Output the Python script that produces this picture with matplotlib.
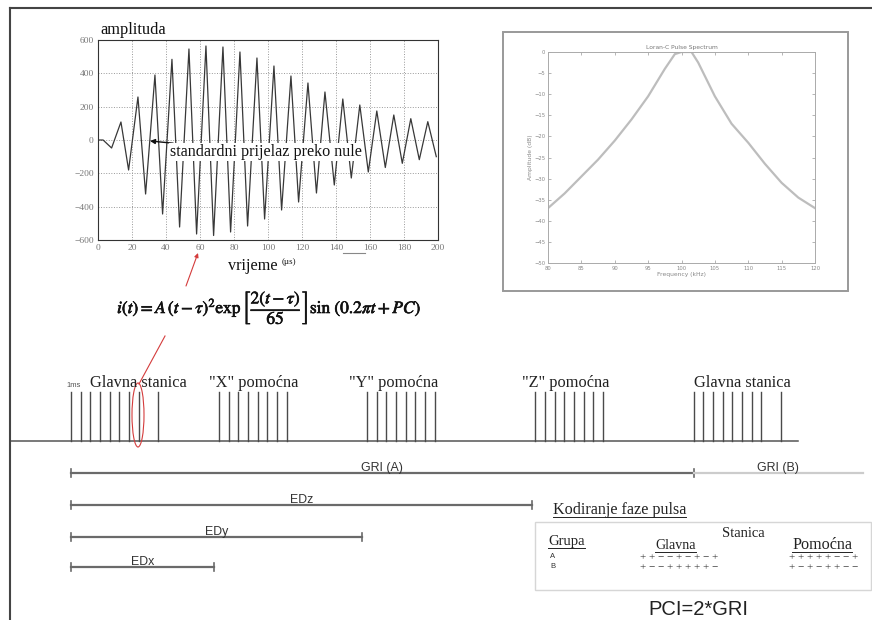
import matplotlib
matplotlib.use('Agg')
import matplotlib.pyplot as plt
from matplotlib.patches import Ellipse, Rectangle
import matplotlib.patheffects as pe

# ---------------- data ----------------
wave_t = [0, 3, 8, 13.5, 18, 23.5, 28, 33.5, 38, 43.5, 48, 53.5, 58, 63.5, 68, 73.5,
          78, 83.5, 88, 93.5, 98, 103.5, 108, 113.5, 118, 123.5, 128.5, 133.5, 139,
          144, 149, 154, 159, 164, 169, 174, 179, 184, 189, 194, 199]
wave_amp = [0, 0, -48, 108, -180, 258, -324, 390, -444, 484, -522, 546, -564, 564,
            -573, 558, -552, 528, -516, 492, -474, 444, -420, 384, -372, 342, -318,
            288, -270, 246, -228, 210, -192, 174, -165, 150, -140, 128, -118, 110, -100]
wave_xticks = [0, 20, 40, 60, 80, 100, 120, 140, 160, 180, 200]
wave_yticks = [-600, -400, -200, 0, 200, 400, 600]

spec_f = [80, 82.5, 85, 87.5, 90, 92.5, 95, 97.5, 99, 100, 101.5, 102.5, 105,
          107.5, 110, 112.5, 115, 117.5, 120]
spec_db = [-37, -33.5, -29.5, -25.5, -21, -16, -10.5, -4, -0.5, 0, 0, -2.5, -10.5,
           -17, -21.5, -26.5, -31, -34.5, -37]
spec_xticks = [80, 85, 90, 95, 100, 105, 110, 115, 120]
spec_yticks = [0, -5, -10, -15, -20, -25, -30, -35, -40, -45, -50]

station_labels = ['Glavna stanica', '"X" pomoćna', '"Y" pomoćna', '"Z" pomoćna', 'Glavna stanica']
group_start_ms = [0, 15.3, 30.6, 48.0, 64.4]
group_is_master = [True, False, False, False, True]
master_offsets = [0, 1, 2, 3, 4, 5, 6, 7, 9]
secondary_offsets = [0, 1, 2, 3, 4, 5, 6, 7]

range_labels = ['GRI (A)', 'EDz', 'EDy', 'EDx', 'GRI (B)']
range_start = [0, 0, 0, 0, 64.4]
range_end = [64.4, 47.7, 30.1, 14.8, 81.9]

phase_groups = ['A', 'B']
phase_master = ['++−−+−+−+', '+−−+++++−']
phase_secondary = ['+++++−−+', '+−+−++−−']

# ---------------- figure ----------------
W, H = 872, 620
fig = plt.figure(figsize=(W / 100, H / 100), dpi=100)
SERIF = ['Liberation Serif', 'DejaVu Serif']
SANS = ['Liberation Sans', 'DejaVu Sans']


def fa(l, t, r, b):
    return [l / W, 1 - b / H, (r - l) / W, (b - t) / H]


# waveform plot
axw = fig.add_axes(fa(98, 40, 438, 240))
axw.plot(wave_t, wave_amp, color='#383838', lw=0.9, solid_joinstyle='round')
axw.set_xlim(0, 200)
axw.set_ylim(-600, 600)
axw.set_xticks(wave_xticks)
axw.set_yticks(wave_yticks)
axw.grid(True, ls=':', color='#999999', lw=0.7)
axw.tick_params(length=0, labelsize=6.8, labelcolor='#777777', pad=3)
for lab in axw.get_xticklabels() + axw.get_yticklabels():
    lab.set_family(SERIF)
for s in axw.spines.values():
    s.set_color('#333333')
    s.set_linewidth(0.8)

# spectrum plot
axs = fig.add_axes(fa(548, 52, 815, 263))
axs.plot(spec_f, spec_db, color='#bdbdbd', lw=1.6)
axs.set_xlim(80, 120)
axs.set_ylim(-50, 0)
axs.set_xticks(spec_xticks)
axs.set_yticks(spec_yticks)
axs.tick_params(direction='in', length=2, width=0.5, color='#999999', labelsize=3.8,
                labelcolor='#888888', top=True, right=True, pad=2)
for s in axs.spines.values():
    s.set_color('#aaaaaa')
    s.set_linewidth(0.7)
axs.set_title('Loran-C Pulse Spectrum', fontsize=4.3, color='#777777', pad=2)
axs.set_xlabel('Frequency (kHz)', fontsize=4.3, color='#888888', labelpad=1)
axs.set_ylabel('Amplitude (dB)', fontsize=4.3, color='#888888', labelpad=1)

# timeline axes (x in ms)
PX0, PXMS = 71.0, 9.67
axt = fig.add_axes([0, 0, 1, 1])
axt.set_xlim(-PX0 / PXMS, (W - PX0) / PXMS)
axt.set_ylim(H, 0)
axt.axis('off')
axt.patch.set_alpha(0)

axt.plot([(10 - PX0) / PXMS, (798 - PX0) / PXMS], [441, 441], color='#555555', lw=1.1)
for start, master in zip(group_start_ms, group_is_master):
    offs = master_offsets if master else secondary_offsets
    for o in offs:
        axt.plot([start + o, start + o], [392, 441], color='#4a4a4a', lw=1.0)

range_rows = [473, 505, 537, 567, 473]
for lab, s0, s1, yy in zip(range_labels, range_start, range_end, range_rows):
    col = '#cccccc' if lab == 'GRI (B)' else '#6a6a6a'
    axt.plot([s0, s1], [yy, yy], color=col, lw=1.6)
    if lab != 'GRI (B)':
        axt.plot([s0, s0], [yy - 4, yy + 4], color='#6a6a6a', lw=1.2)
        axt.plot([s1, s1], [yy - 4, yy + 4], color='#6a6a6a', lw=1.2)
    xm = (s0 + s1) / 2
    axt.text(xm, yy - 2, lab, fontsize=8.9, family=SANS, color='#333333',
             ha='center', va='baseline')

# overlay in pixel coordinates
axo = fig.add_axes([0, 0, 1, 1])
axo.set_xlim(0, W)
axo.set_ylim(H, 0)
axo.axis('off')
axo.patch.set_alpha(0)

# borders
axo.plot([10, W], [8, 8], color='#444444', lw=1.5)
axo.plot([10, 10], [8, H], color='#444444', lw=1.5)

# spectrum frame
axo.add_patch(Rectangle((503, 32), 345, 259, fill=False, ec='#999999', lw=1.4))

# waveform annotations
axo.text(100, 34, 'amplituda', family=SERIF, fontsize=11.8, color='#111111', va='baseline')
axo.annotate('standardni prijelaz preko nule', xy=(150, 141), xytext=(170, 156),
             family=SERIF, fontsize=11.6, color='#111111', va='baseline',
             bbox=dict(boxstyle='square,pad=0.05', fc='white', ec='none'),
             arrowprops=dict(arrowstyle='-|>', color='#111111', lw=1.0,
                             shrinkA=0, shrinkB=0, mutation_scale=7))
axo.text(228, 270, 'vrijeme', family=SERIF, fontsize=11.7, color='#111111', va='baseline')
axo.text(282, 264, '(µs)', family=SERIF, fontsize=6.5, color='#111111', va='baseline')
axo.plot([343, 365], [253, 253], color='#888888', lw=0.8)

# formula
ft = axo.text(117, 308, r'$i(t) = A\,(t-\tau)^2\exp\left[\dfrac{2(t-\tau)}{65}\right]\sin\,(0.2\pi t + PC)$',
              fontsize=12.5, color='#111111', va='center', ha='left', math_fontfamily='stix')
ft.set_path_effects([pe.withStroke(linewidth=0.45, foreground='#111111')])

# red marks
axo.annotate('', xy=(198, 253), xytext=(186, 286),
             arrowprops=dict(arrowstyle='-|>', color='#d43c3c', lw=0.8,
                             shrinkA=0, shrinkB=0, mutation_scale=6))
axo.plot([165, 139], [336, 384], color='#d43c3c', lw=0.8)
axo.add_patch(Ellipse((138, 415), 12, 64, fill=False, ec='#d43c3c', lw=0.8))

# station labels
label_x = [90, 209, 349, 522, 694]
for lab, lx in zip(station_labels, label_x):
    axo.text(lx, 387, lab, family=SERIF, fontsize=11.8, color='#222222', va='baseline')
axo.text(66, 387, '1ms', family=SANS, fontsize=5.5, color='#555555', va='baseline')

# phase coding box
axo.add_patch(Rectangle((535, 522), 336, 68, fill=False, ec='#d6d6d6', lw=1.0))

underlined = []
underlined.append(axo.text(553, 514, 'Kodiranje faze pulsa', family=SERIF, fontsize=11.6,
                           color='#222222', va='baseline'))
underlined.append(axo.text(548, 545, 'Grupa', family=SERIF, fontsize=10.5,
                           color='#222222', va='baseline'))
underlined.append(axo.text(655, 549, 'Glavna', family=SERIF, fontsize=10,
                           color='#222222', va='baseline'))
axo.text(722, 537, 'Stanica', family=SERIF, fontsize=10.5, color='#222222', va='baseline')
underlined.append(axo.text(792, 549, 'Pomoćna', family=SERIF, fontsize=11.6,
                           color='#222222', va='baseline'))

for i, g in enumerate(phase_groups):
    yy = 557 + 10 * i
    axo.text(550, yy, g, family=SANS, fontsize=5.5, color='#333333', va='center')
    axo.text(640, yy, ' '.join(phase_master[i]), family=SERIF, fontsize=8,
             color='#333333', va='center')
    axo.text(789, yy, ' '.join(phase_secondary[i]), family=SERIF, fontsize=8,
             color='#333333', va='center')

axo.text(648, 615, 'PCI=2*GRI', family=SANS, fontsize=14.5, color='#222222', va='baseline')

fig.canvas.draw()
r = fig.canvas.get_renderer()
inv = axo.transData.inverted()
for t in underlined:
    bb = t.get_window_extent(r)
    (x0, _), (x1, _) = inv.transform([[bb.x0, bb.y0], [bb.x1, bb.y1]])
    yb = t.get_position()[1] + 2.5
    axo.plot([x0, x1], [yb, yb], color='#222222', lw=0.7)

fig.savefig('out.png', dpi=100, facecolor='white')
